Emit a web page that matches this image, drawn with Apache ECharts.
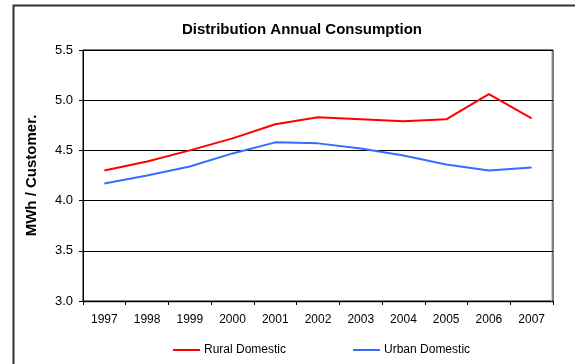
<!DOCTYPE html>
<html>
<head>
<meta charset="utf-8">
<script src="https://cdn.jsdelivr.net/npm/echarts@6/dist/echarts.min.js"></script>
<style>
  html, body { margin: 0; padding: 0; background: #fff; }
  #chart { width: 575px; height: 364px; }
</style>
</head>
<body>
<div id="chart"></div>
<script>
// Years on the category axis
const years = ['1997', '1998', '1999', '2000', '2001', '2002', '2003', '2004', '2005', '2006', '2007'];

// Annual consumption per customer (MWh)
const ruralDomestic = [4.30, 4.39, 4.50, 4.62, 4.76, 4.83, 4.81, 4.79, 4.81, 5.06, 4.82];
const urbanDomestic = [4.17, 4.25, 4.34, 4.47, 4.58, 4.57, 4.52, 4.45, 4.36, 4.30, 4.33];

// Value axis range
const yMin = 3.0;
const yMax = 5.5;
const yStep = 0.5;

const chart = echarts.init(document.getElementById('chart'), null, { renderer: 'canvas' });

const font = 'Liberation Sans, Arial, sans-serif';

chart.setOption({
  animation: false,
  backgroundColor: '#fff',
  textStyle: { fontFamily: font },
  graphic: [
    {
      // outer chart frame
      type: 'rect',
      shape: { x: 13.5, y: 5.5, width: 620, height: 420 },
      style: { fill: 'none', stroke: '#333', lineWidth: 2 },
      silent: true
    },
    {
      // soft edge under the category axis
      type: 'line',
      shape: { x1: 83, y1: 302.5, x2: 553, y2: 302.5 },
      style: { stroke: '#c8c8c8', lineWidth: 1 },
      silent: true
    },
    {
      // soft edge inside the right plot border
      type: 'line',
      shape: { x1: 551.5, y1: 51, x2: 551.5, y2: 301 },
      style: { stroke: '#d0d0d0', lineWidth: 1 },
      silent: true
    }
  ],
  title: {
    text: 'Distribution Annual Consumption',
    left: 297,
    top: 17,
    textAlign: 'center',
    textStyle: { fontFamily: font, fontSize: 15, fontWeight: 'bold', color: '#000' }
  },
  grid: {
    left: 83, right: 22, top: 50, bottom: 63,
    show: true, borderColor: '#000', borderWidth: 1, backgroundColor: 'transparent'
  },
  legend: {
    left: 168,
    top: 339,
    itemGap: 67,
    itemWidth: 27,
    itemHeight: 2,
    icon: 'rect',
    textStyle: { fontFamily: font, fontSize: 12, color: '#000', padding: [0, 0, 0, -1] },
    data: ['Rural Domestic', 'Urban Domestic']
  },
  xAxis: {
    type: 'category',
    data: years,
    boundaryGap: true,
    axisLine: { lineStyle: { color: '#000', width: 1 } },
    axisTick: { show: true, length: 4, lineStyle: { color: '#000' } },
    axisLabel: { color: '#000', fontSize: 12, fontFamily: font, margin: 13 },
    splitLine: { show: false }
  },
  yAxis: {
    type: 'value',
    min: yMin,
    max: yMax,
    interval: yStep,
    name: 'MWh / Customer.',
    nameLocation: 'middle',
    nameGap: 44,
    nameTextStyle: { fontFamily: font, fontSize: 15, fontWeight: 'bold', color: '#000' },
    axisLine: { show: true, lineStyle: { color: '#000', width: 1 } },
    axisTick: { show: true, length: 4, lineStyle: { color: '#000' } },
    axisLabel: {
      color: '#000', fontSize: 13, fontFamily: font, margin: 10,
      formatter: v => v.toFixed(1)
    },
    splitLine: { show: true, lineStyle: { color: '#000', width: 1 } }
  },
  series: [
    {
      name: 'Rural Domestic',
      type: 'line',
      data: ruralDomestic,
      symbol: 'none',
      lineStyle: { color: '#ff0000', width: 2 },
      itemStyle: { color: '#ff0000' }
    },
    {
      name: 'Urban Domestic',
      type: 'line',
      data: urbanDomestic,
      symbol: 'none',
      lineStyle: { color: '#3a6bff', width: 2 },
      itemStyle: { color: '#3a6bff' }
    }
  ]
});
</script>
</body>
</html>
